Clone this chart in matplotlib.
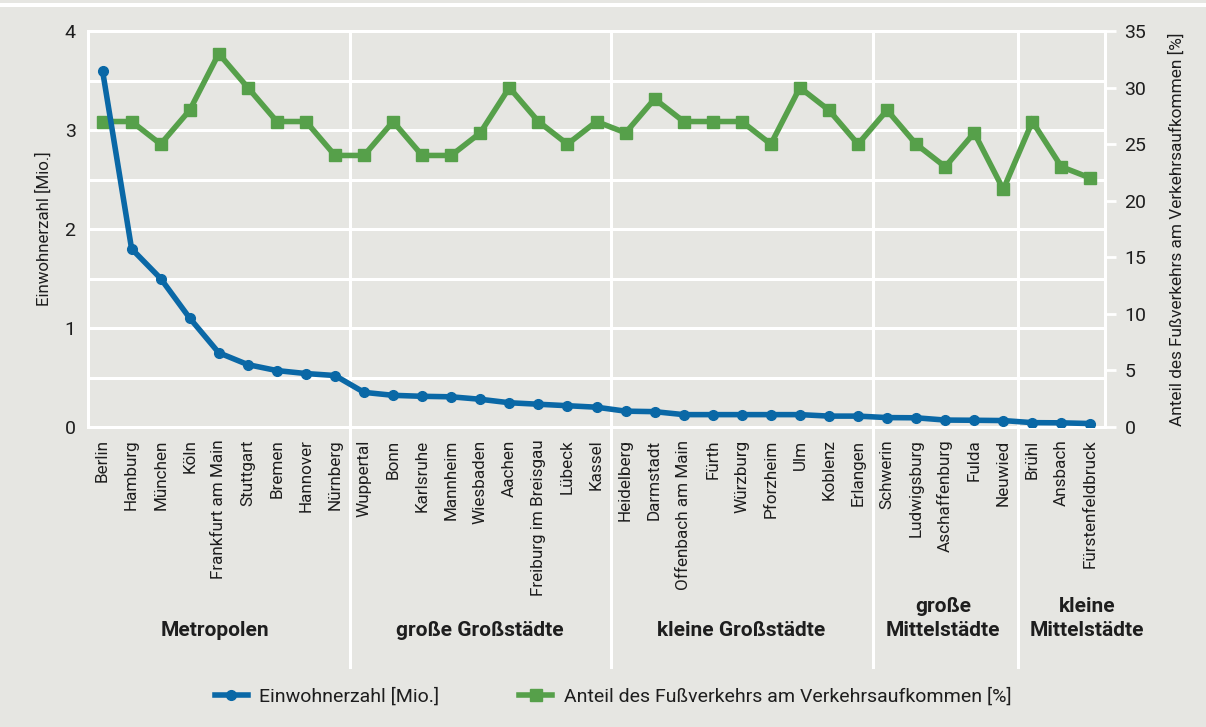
import matplotlib
matplotlib.use("Agg")
import matplotlib.pyplot as plt
from matplotlib.lines import Line2D
from matplotlib.patches import Rectangle
import matplotlib.transforms as mtransforms

plt.rcParams['font.family'] = ['Roboto', 'DejaVu Sans']

cities = ["Berlin", "Hamburg", "München", "Köln", "Frankfurt am Main", "Stuttgart",
          "Bremen", "Hannover", "Nürnberg",
          "Wuppertal", "Bonn", "Karlsruhe", "Mannheim", "Wiesbaden", "Aachen",
          "Freiburg im Breisgau", "Lübeck", "Kassel",
          "Heidelberg", "Darmstadt", "Offenbach am Main", "Fürth", "Würzburg",
          "Pforzheim", "Ulm", "Koblenz", "Erlangen",
          "Schwerin", "Ludwigsburg", "Aschaffenburg", "Fulda", "Neuwied",
          "Brühl", "Ansbach", "Fürstenfeldbruck"]

einwohner = [3.6, 1.8, 1.5, 1.1, 0.75, 0.63, 0.57, 0.54, 0.52,
             0.35, 0.32, 0.31, 0.305, 0.28, 0.245, 0.23, 0.215, 0.2,
             0.16, 0.155, 0.125, 0.125, 0.125, 0.125, 0.125, 0.11, 0.11,
             0.095, 0.093, 0.07, 0.068, 0.065,
             0.044, 0.042, 0.035]

fuss = [27, 27, 25, 28, 33, 30, 27, 27, 24,
        24, 27, 24, 24, 26, 30, 27, 25, 27,
        26, 29, 27, 27, 27, 25, 30, 28, 25,
        28, 25, 23, 26, 21,
        27, 23, 22]

groups = ["Metropolen", "große Großstädte", "kleine Großstädte",
          "große\nMittelstädte", "kleine\nMittelstädte"]
group_sizes = [9, 9, 9, 5, 3]

label_left = "Einwohnerzahl [Mio.]"
label_right = "Anteil des Fußverkehrs am Verkehrsaufkommen [%]"

BG = "#e6e6e2"
BLUE = "#0a68a6"
GREEN = "#56a04a"
TXT = "#1e1e1e"

W, H = 1206, 727
fig = plt.figure(figsize=(W / 100, H / 100), dpi=100)
fig.patch.set_facecolor(BG)
fig.patches.append(Rectangle((0, 1 - 7 / H), 1, 4 / H, transform=fig.transFigure,
                             facecolor="white", edgecolor="none", zorder=0))

L, R, T, B = 88, 1105, 31, 427
ax = fig.add_axes([L / W, 1 - B / H, (R - L) / W, (B - T) / H])
ax.set_facecolor(BG)
n = len(cities)
x = list(range(n))
ax.set_xlim(-0.5, n - 0.5)
ax.set_ylim(0, 4)
ax.set_yticks([0, 1, 2, 3, 4])
ax.set_yticks([0.5, 1.5, 2.5, 3.5], minor=True)
ax.grid(True, which="both", axis="y", color="white", linewidth=2.2)
ax.set_axisbelow(True)
for s in ax.spines.values():
    s.set_color("white")
    s.set_linewidth(2.2)
ax.tick_params(axis="y", which="both", length=0, pad=9, labelsize=14, labelcolor=TXT)
ax.set_xticks(x)
ax.set_xticklabels(cities, rotation=90, fontsize=12.3, color=TXT)
ax.tick_params(axis="x", length=0, pad=9)
ax.set_ylabel(label_left, fontsize=12.2, color=TXT, labelpad=9)

trans = mtransforms.blended_transform_factory(ax.transData, ax.transAxes)
bottom_ext = (B - 667) / (B - T)
pos = 0
boundaries = []
for gs in group_sizes[:-1]:
    pos += gs
    boundaries.append(pos - 0.5)
for bx in boundaries:
    ax.add_line(Line2D([bx, bx], [1, bottom_ext], transform=trans, color="white",
                       linewidth=2.2, clip_on=False, zorder=0.5))

centers_px = [215, 480, 741, 943, 1087]
for g, cpx in zip(groups, centers_px):
    fig.text(cpx / W, 1 - 636 / H, g, ha="center", va="baseline", fontsize=15,
             fontweight="bold", color=TXT, linespacing=1.3)

ax2 = ax.twinx()
ax2.set_ylim(0, 35)
ax2.set_yticks(range(0, 36, 5))
ax2.tick_params(axis="y", length=8, width=2, color="white", pad=6, labelsize=14,
                labelcolor=TXT)
for s in ax2.spines.values():
    s.set_visible(False)
ax2.set_ylabel(label_right, fontsize=12.4, color=TXT, labelpad=16)
ax2.plot(x, fuss, color=GREEN, linewidth=4, marker="s", markersize=8,
         solid_joinstyle="miter", label=label_right)

ax3 = ax.twinx()
ax3.set_ylim(0, 4)
ax3.set_yticks([])
for s in ax3.spines.values():
    s.set_visible(False)
ax3.plot(x, einwohner, color=BLUE, linewidth=4, marker="o", markersize=7,
         label=label_left)

handles = [Line2D([], [], color=BLUE, linewidth=4, marker="o", markersize=7),
           Line2D([], [], color=GREEN, linewidth=4, marker="s", markersize=8)]
fig.legend(handles, [label_left, label_right], loc="center", ncol=2,
           bbox_to_anchor=(613 / W, 1 - 697 / H), frameon=False, fontsize=14,
           handlelength=1.7, columnspacing=4.1, handletextpad=0.6,
           labelcolor=TXT)

fig.savefig("out.png", dpi=100, facecolor=fig.get_facecolor())
